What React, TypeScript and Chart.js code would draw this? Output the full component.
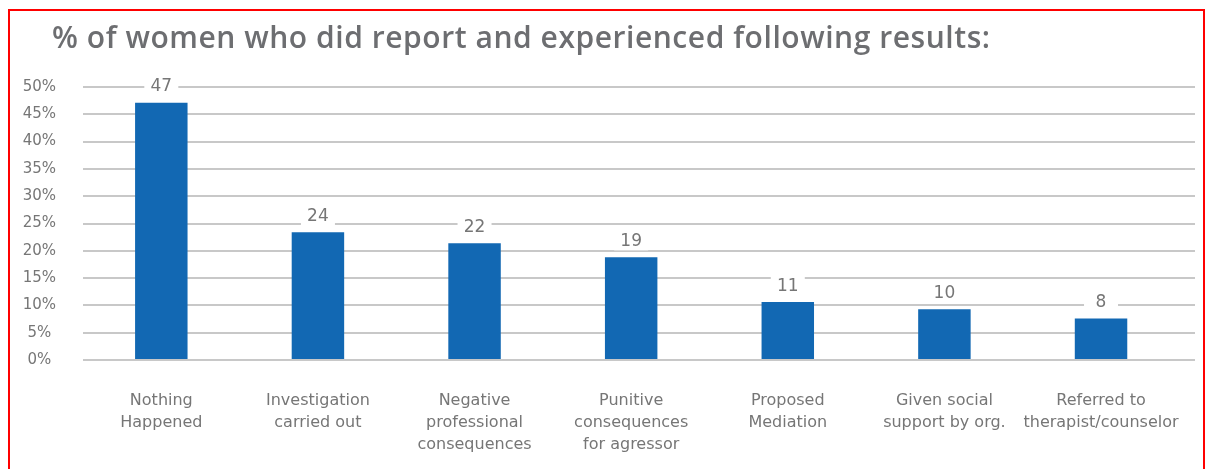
import React, { useEffect, useRef } from "react";
import { Chart, registerables } from "chart.js";

Chart.register(...registerables);

const TITLE = "% of women who did report and experienced following results:";
const categories: string[][] = [
  ["Nothing", "Happened"],
  ["Investigation", "carried out"],
  ["Negative", "professional", "consequences"],
  ["Punitive", "consequences", "for agressor"],
  ["Proposed", "Mediation"],
  ["Given social", "support by org."],
  ["Referred to", "therapist/counselor"],
];
const values: number[] = [47.1, 23.4, 21.4, 18.8, 10.6, 9.3, 7.6];
const valueLabels: string[] = ["47", "24", "22", "19", "11", "10", "8"];
const yTickValues: number[] = [0, 5, 10, 15, 20, 25, 30, 35, 40, 45, 50];

const BAR_COLOR = "#1268b3";
const GRID_COLOR = "#c8c8c8";
const TEXT_COLOR = "#767676";
const FONT = "'DejaVu Sans', sans-serif";
const TITLE_FONT = "'Open Sans', sans-serif";

export default function App() {
  const ref = useRef<HTMLCanvasElement | null>(null);

  useEffect(() => {
    if (!ref.current) return;
    document.documentElement.style.overflow = "hidden";
    document.body.style.overflow = "hidden";
    const labelPlugin = {
      id: "valueLabels",
      afterDatasetsDraw(chart: any) {
        const ctx = chart.ctx;
        const meta = chart.getDatasetMeta(0);
        ctx.save();
        ctx.font = `17px ${FONT}`;
        ctx.textAlign = "center";
        ctx.textBaseline = "middle";
        meta.data.forEach((el: any, i: number) => {
          const x = el.x;
          const y = el.y - 17;
          ctx.fillStyle = "#ffffff";
          ctx.fillRect(x - 17, y - 10, 34, 20);
          ctx.fillStyle = TEXT_COLOR;
          ctx.fillText(valueLabels[i], x, y + 1);
        });
        ctx.restore();
      },
    };
    const titlePlugin = {
      id: "leftTitle",
      afterDraw(chart: any) {
        const ctx = chart.ctx;
        ctx.save();
        ctx.font = `600 30px ${TITLE_FONT}`;
        ctx.fillStyle = "#6d6e71";
        ctx.textAlign = "left";
        ctx.textBaseline = "alphabetic";
        const targetWidth = 938;
        const w = ctx.measureText(TITLE).width;
        const spacing = Math.max(-1, Math.min(1, (targetWidth - w) / (TITLE.length - 1)));
        (ctx as any).letterSpacing = `${spacing}px`;
        ctx.fillText(TITLE, 42, 37);
        ctx.restore();
      },
    };
    const chart = new Chart(ref.current, {
      type: "bar",
      data: {
        datasets: [
          {
            data: values.map((v, i) => ({ x: i, y: v })),
            backgroundColor: BAR_COLOR,
            barPercentage: 0.335,
            categoryPercentage: 1,
          },
        ],
      },
      options: {
        responsive: false,
        animation: false,
        devicePixelRatio: 1,
        layout: { padding: { top: 76, right: 8, left: 0, bottom: 0 } },
        plugins: { legend: { display: false }, tooltip: { enabled: false }, title: { display: false } },
        scales: {
          x: {
            type: "linear",
            min: -0.5,
            max: 6.6,
            offset: false,
            afterBuildTicks(scale: any) {
              scale.ticks = categories.map((_, i) => ({ value: i }));
            },
            grid: { display: false },
            border: { display: false },
            ticks: {
              color: TEXT_COLOR,
              font: { family: FONT, size: 16, lineHeight: 1.375 },
              padding: 22,
              maxRotation: 0,
              autoSkip: false,
              callback: (v: any) => categories[Math.round(Number(v))] ?? "",
            },
            afterFit(scale: any) {
              scale.height = 109;
              scale.paddingLeft = 0;
              scale.paddingRight = 0;
            },
          },
          y: {
            min: 0,
            max: 50,
            afterBuildTicks(scale: any) {
              scale.ticks = yTickValues.map((v) => ({ value: v }));
            },
            grid: { color: GRID_COLOR, lineWidth: 2, drawTicks: false },
            border: { display: false },
            ticks: {
              color: TEXT_COLOR,
              font: { family: FONT, size: 15 },
              padding: 27,
              crossAlign: "center",
              callback: (v: any) => `${v}%`,
            },
            afterFit(scale: any) {
              scale.width = 73;
            },
          },
        },
      },
      plugins: [labelPlugin, titlePlugin],
    });
    return () => chart.destroy();
  }, []);

  return (
    <div
      style={{
        position: "fixed",
        left: 8,
        top: 9,
        width: 1193,
        height: 470,
        borderTop: "2px solid #ff0000",
        borderLeft: "2px solid #ff0000",
        borderRight: "2px solid #ff0000",
        background: "#ffffff",
      }}
    >
      <canvas ref={ref} width={1193} height={458} style={{ position: "absolute", left: 0, top: 0 }} />
    </div>
  );
}
